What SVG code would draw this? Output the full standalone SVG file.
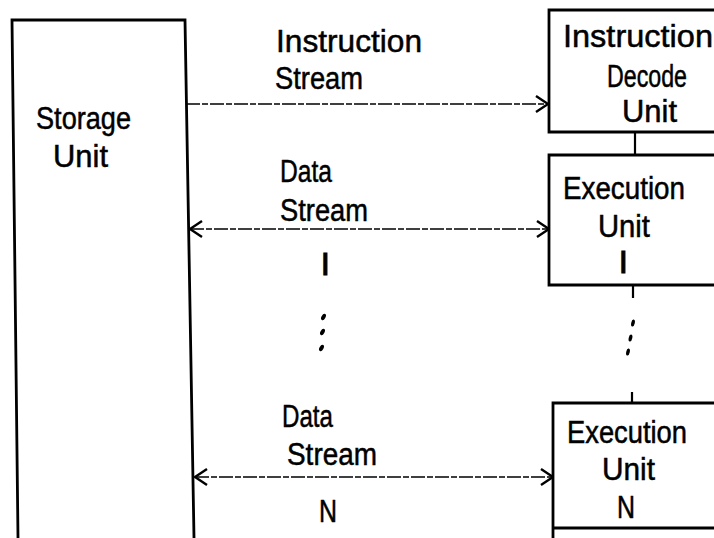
<svg xmlns="http://www.w3.org/2000/svg" width="714" height="538" viewBox="0 0 714 538">
  <style>
    .box { fill: none; stroke: #000; stroke-width: 2.8; stroke-linejoin: miter; }
    .stub { fill: none; stroke: #000; stroke-width: 2.2; }
    .conn { fill: none; stroke: #000; stroke-width: 1.7; stroke-dasharray: 14 2 6 2; }
    .t { font-family: "Liberation Sans", Arial, sans-serif; font-size: 31px; fill: #000; stroke: #000; stroke-width: 0.5; }
    .bar { stroke-width: 1.2; }
    .dot { fill: #000; }
  </style>
  <defs>
    <marker id="arr" viewBox="0 0 14 18" refX="13" refY="9" markerWidth="14" markerHeight="18" markerUnits="userSpaceOnUse" orient="auto-start-reverse">
      <path d="M1,1 L13,9 L1,17" fill="none" stroke="#000" stroke-width="2.4"/>
    </marker>
  </defs>
  <rect width="714" height="538" fill="#fff"/>

  <g id="storage-unit">
    <path class="box" d="M18,538 L12,20 L185,20 L194,538"/>
    <text class="t" x="36" y="129" textLength="95" lengthAdjust="spacingAndGlyphs">Storage</text>
    <text class="t" x="53" y="167" textLength="55" lengthAdjust="spacingAndGlyphs">Unit</text>
  </g>

  <g id="instruction-decode-unit">
    <path class="box" d="M720,10 L549,10 L549,132 L720,132"/>
    <text class="t" x="563" y="47" textLength="150" lengthAdjust="spacingAndGlyphs">Instruction</text>
    <text class="t" x="607" y="87" textLength="80" lengthAdjust="spacingAndGlyphs">Decode</text>
    <text class="t" x="622" y="122" textLength="55" lengthAdjust="spacingAndGlyphs">Unit</text>
  </g>

  <g id="execution-unit-1">
    <path class="box" d="M720,155 L549,155 L549,285 L720,285"/>
    <text class="t" x="563" y="199" textLength="122" lengthAdjust="spacingAndGlyphs">Execution</text>
    <text class="t" x="598" y="237" textLength="52" lengthAdjust="spacingAndGlyphs">Unit</text>
    <text class="t bar" x="619" y="273">I</text>
  </g>

  <g id="execution-unit-n">
    <path class="box" d="M720,403 L553,403 L553,538 M553,528 L720,528"/>
    <text class="t" x="567" y="443" textLength="120" lengthAdjust="spacingAndGlyphs">Execution</text>
    <text class="t" x="602" y="480" textLength="53" lengthAdjust="spacingAndGlyphs">Unit</text>
    <text class="t" x="617" y="518" textLength="18" lengthAdjust="spacingAndGlyphs">N</text>
  </g>

  <g id="connectors">
    <line class="conn" x1="186" y1="104" x2="548" y2="104" marker-end="url(#arr)"/>
    <line class="conn" x1="190" y1="229" x2="549" y2="229" marker-start="url(#arr)" marker-end="url(#arr)"/>
    <line class="conn" x1="195" y1="477" x2="553" y2="477" marker-start="url(#arr)" marker-end="url(#arr)"/>
    <line class="stub" x1="635" y1="132" x2="635" y2="155"/>
    <line class="stub" x1="633" y1="285" x2="633" y2="298"/>
    <line class="stub" x1="632" y1="392" x2="632" y2="403"/>
    <ellipse class="dot" cx="633" cy="323" rx="1.8" ry="3.6" transform="rotate(12 633 323)"/>
    <ellipse class="dot" cx="630.5" cy="338" rx="1.8" ry="3.6" transform="rotate(12 630.5 338)"/>
    <ellipse class="dot" cx="628" cy="352" rx="1.8" ry="3.6" transform="rotate(12 628 352)"/>
  </g>

  <g id="labels">
    <text class="t" x="276" y="52" textLength="146" lengthAdjust="spacingAndGlyphs">Instruction</text>
    <text class="t" x="275" y="89" textLength="88" lengthAdjust="spacingAndGlyphs">Stream</text>
    <text class="t" x="280" y="182" textLength="52" lengthAdjust="spacingAndGlyphs">Data</text>
    <text class="t" x="280" y="221" textLength="88" lengthAdjust="spacingAndGlyphs">Stream</text>
    <text class="t bar" x="321" y="275">I</text>
    <ellipse class="dot" cx="323.5" cy="317" rx="2" ry="3.4" transform="rotate(30 323.5 317)"/>
    <ellipse class="dot" cx="322.5" cy="332" rx="2" ry="3.4" transform="rotate(30 322.5 332)"/>
    <ellipse class="dot" cx="321.5" cy="348" rx="2" ry="3.4" transform="rotate(30 321.5 348)"/>
    <text class="t" x="282" y="427" textLength="51" lengthAdjust="spacingAndGlyphs">Data</text>
    <text class="t" x="287" y="465" textLength="90" lengthAdjust="spacingAndGlyphs">Stream</text>
    <text class="t" x="319" y="522" textLength="18" lengthAdjust="spacingAndGlyphs">N</text>
  </g>
</svg>
